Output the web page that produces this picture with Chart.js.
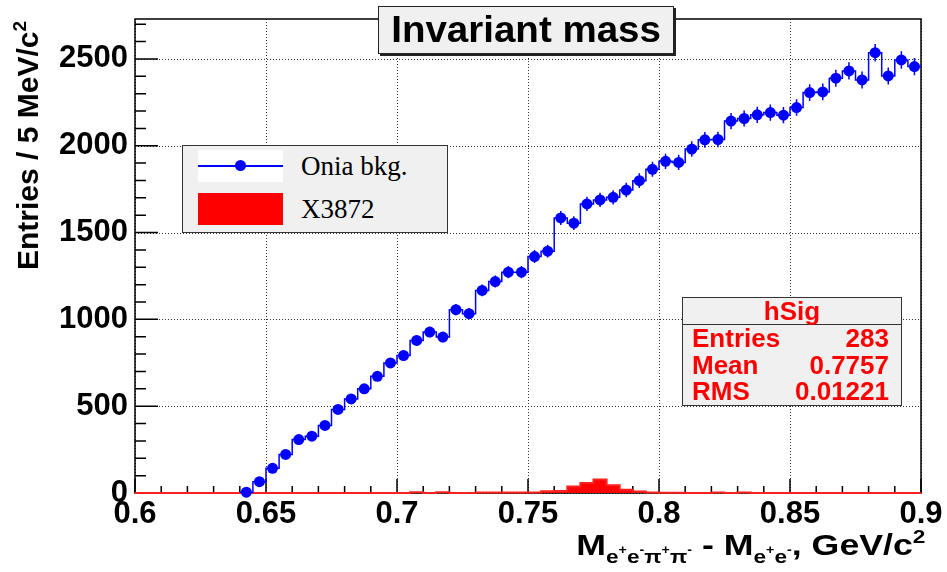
<!DOCTYPE html>
<html lang="en">
<head>
  <meta charset="UTF-8" />
  <title>Invariant mass</title>
  <script src="https://cdn.jsdelivr.net/npm/chart.js"></script>
  <style>
    body {
      margin: 0;
      background: #fff;
      font-family: "Liberation Sans", Arial, sans-serif;
    }
    .wrap {
      position: relative;
      width: 947px;
      height: 572px;
      overflow: hidden;
    }
    canvas { position: absolute; left: 0; top: 0; }
    .title-box {
      position: absolute;
      left: 378px; top: 6px;
      width: 294px; height: 46px;
      background: #f0f0f0;
      border: 1.5px solid #222;
      box-shadow: 2px 2px 0 #222;
      font-weight: bold;
      font-size: 36px;
      line-height: 46px;
      text-align: center;
    }
    .title-box span { display: inline-block; transform: scaleX(1.07); }
    .legend {
      position: absolute;
      left: 182px; top: 145px;
      width: 264px; height: 86px;
      background: #f0f0f0;
      border: 1.5px solid #333;
      font-family: "Liberation Serif", "Times New Roman", serif;
      font-size: 27px;
    }
    .legend .sym {
      position: absolute;
      left: 15px;
      width: 85px; height: 32px;
    }
    .legend .sym.line { top: 4px; background: #fff; }
    .legend .sym.line::before {
      content: ""; position: absolute; left: 0; right: 0; top: 15px;
      height: 1.5px; background: #0000ff;
    }
    .legend .sym.line::after {
      content: ""; position: absolute; left: 37px; top: 10px;
      width: 11px; height: 11px; border-radius: 50%; background: #0000ff;
    }
    .legend .sym.fill { top: 47px; background: #ff0000; }
    .legend .txt {
      position: absolute; left: 118px;
      line-height: 32px;
    }
    .stats {
      position: absolute;
      left: 682px; top: 297px;
      width: 218px; height: 107px;
      background: #f0f0f0;
      border: 1.5px solid #333;
      color: #ff0000;
      font-weight: bold;
      font-size: 26px;
    }
    .stats .head {
      height: 26px; line-height: 26px;
      text-align: center;
      border-bottom: 1.5px solid #333;
    }
    .stats .row {
      display: flex; justify-content: space-between;
      height: 26.5px; line-height: 26.5px;
      padding: 0 12px 0 9px;
    }
    .xtitle {
      position: absolute;
      right: 22px; top: 528px;
      font-weight: bold; font-size: 30px;
      line-height: 34px; white-space: nowrap;
      transform-origin: right center;
      transform: scaleX(1.19);
    }
    .ytitle {
      position: absolute; left: 0; top: 0;
      width: 300px; text-align: right;
      font-weight: bold; font-size: 30px;
      line-height: 34px; white-space: nowrap;
      transform-origin: 0 0;
      transform: translate(11px, 321px) rotate(-90deg);
    }
    .sub { font-size: 19px; position: relative; top: 8px; }
    .sub .pm { font-size: 12px; position: relative; top: -9px; }
    .sup { font-size: 19px; position: relative; top: -12px; }
  </style>
</head>
<body>
  <div class="wrap">
    <canvas id="massChart" width="947" height="572"></canvas>
    <div class="title-box"><span>Invariant mass</span></div>
    <div class="legend">
      <div class="sym line"></div>
      <div class="txt" style="top:4px">Onia bkg.</div>
      <div class="sym fill"></div>
      <div class="txt" style="top:47px">X3872</div>
    </div>
    <div class="stats">
      <div class="head">hSig</div>
      <div class="row"><span>Entries</span><span>283</span></div>
      <div class="row"><span>Mean</span><span>0.7757</span></div>
      <div class="row"><span>RMS</span><span>0.01221</span></div>
    </div>
    <div class="ytitle">Entries / 5 MeV/c<span class="sup">2</span></div>
    <div class="xtitle">M<span class="sub">e<span class="pm">+</span>e<span class="pm">-</span>&pi;<span class="pm">+</span>&pi;<span class="pm">-</span></span> - M<span class="sub">e<span class="pm">+</span>e<span class="pm">-</span></span>, GeV/c<span class="sup">2</span></div>
  </div>

  <script>
    // 60 bins of 5 MeV from 0.6 to 0.9 GeV/c^2 (low edges)
    const binLow = Array.from({ length: 60 }, (_, i) => +(0.6 + 0.005 * i).toFixed(4));
    const binWidth = 0.005;

    // Onia background, entries per bin (null = empty, no marker)
    const oniaValues = [
      null, null, null, null, null, null, null, null,
      5, 65, 142, 222, 308, 327, 389, 481, 542, 600, 672, 749,
      792, 879, 927, 898, 1056, 1033, 1167, 1218, 1272, 1272,
      1362, 1393, 1584, 1554, 1665, 1688, 1703, 1745, 1799, 1864,
      1910, 1904, 1981, 2034, 2036, 2142, 2157, 2178, 2191, 2176,
      2220, 2306, 2310, 2389, 2431, 2379, 2536, 2402, 2494, 2456
    ];

    // X3872 signal, entries per bin
    const signalValues = [
      0, 0, 0, 0, 0, 0, 0, 0, 0, 0,
      0, 0, 0, 0, 0, 0, 0, 0, 0, 0,
      0, 4, 0, 4, 0, 0, 3, 3, 3, 3,
      3, 10, 11, 38, 57, 78, 45, 18, 9, 3,
      1, 1, 0, 0, 3, 0, 3, 0, 0, 0,
      0, 0, 0, 0, 0, 0, 0, 0, 0, 0
    ];

    const xMajor = [0.6, 0.65, 0.7, 0.75, 0.8, 0.85, 0.9];
    const xTickText = ['0.6', '0.65', '0.7', '0.75', '0.8', '0.85', '0.9'];
    const yMajor = [0, 500, 1000, 1500, 2000, 2500];
    const yMax = 2730;

    const xMinor = [];
    for (let i = 1; i < 30; i++) xMinor.push(0.6 + 0.01 * i);
    const yMinor = [];
    for (let v = 100; v < yMax; v += 100) yMinor.push(v);

    // histogram outlines: one point per low edge, plus the closing edge
    function stepData(values) {
      const pts = [];
      values.forEach((v, i) => { if (v !== null) pts.push({ x: binLow[i], y: v }); });
      pts.push({ x: 0.9, y: values[values.length - 1] });
      return pts;
    }
    const oniaMarkers = [];
    oniaValues.forEach((v, i) => {
      if (v !== null) oniaMarkers.push({ x: binLow[i] + binWidth / 2, y: v });
    });

    const frameAndTicks = {
      id: 'frameAndTicks',
      beforeDatasetsDraw(chart) {
        const { ctx, chartArea: a, scales: { x, y } } = chart;
        ctx.save();
        ctx.strokeStyle = '#333';
        ctx.lineWidth = 1;
        ctx.setLineDash([1, 2]);
        ctx.beginPath();
        xMajor.forEach(v => {
          const px = Math.round(x.getPixelForValue(v)) + 0.5;
          ctx.moveTo(px, a.top); ctx.lineTo(px, a.bottom);
        });
        yMajor.forEach(v => {
          const py = Math.round(y.getPixelForValue(v)) + 0.5;
          ctx.moveTo(a.left, py); ctx.lineTo(a.right, py);
        });
        ctx.stroke();
        ctx.setLineDash([]);

        ctx.strokeStyle = '#000';
        ctx.lineWidth = 1.5;
        ctx.beginPath();
        xMinor.forEach(v => {
          const px = x.getPixelForValue(v);
          ctx.moveTo(px, a.bottom); ctx.lineTo(px, a.bottom - 7);
        });
        xMajor.forEach(v => {
          const px = x.getPixelForValue(v);
          ctx.moveTo(px, a.bottom); ctx.lineTo(px, a.bottom - 14);
        });
        yMinor.forEach(v => {
          const py = y.getPixelForValue(v);
          ctx.moveTo(a.left, py); ctx.lineTo(a.left + 11, py);
        });
        yMajor.forEach(v => {
          const py = y.getPixelForValue(v);
          ctx.moveTo(a.left, py); ctx.lineTo(a.left + 23, py);
        });
        ctx.stroke();
        ctx.strokeRect(a.left, a.top, a.right - a.left, a.bottom - a.top);
        ctx.restore();
      },
      afterDatasetsDraw(chart) {
        // sqrt(N) error bars on the background points
        const { ctx, scales: { x, y } } = chart;
        ctx.save();
        ctx.strokeStyle = '#0000ff';
        ctx.lineWidth = 1.5;
        ctx.beginPath();
        oniaMarkers.forEach(p => {
          const err = Math.sqrt(p.y);
          const px = x.getPixelForValue(p.x);
          ctx.moveTo(px, y.getPixelForValue(p.y + err));
          ctx.lineTo(px, y.getPixelForValue(Math.max(0, p.y - err)));
        });
        ctx.stroke();
        ctx.restore();
      }
    };

    const tickFont = { family: 'Liberation Sans', weight: 'bold', size: 31 };

    new Chart(document.getElementById('massChart').getContext('2d'), {
      type: 'line',
      data: {
        datasets: [
          {
            label: 'Onia bkg. points',
            data: oniaMarkers,
            showLine: false,
            pointStyle: 'circle',
            pointRadius: 5.5,
            pointBackgroundColor: '#0000ff',
            pointBorderWidth: 0,
            clip: false
          },
          {
            label: 'Onia bkg.',
            data: stepData(oniaValues),
            stepped: 'before',
            borderColor: '#0000ff',
            borderWidth: 1.5,
            pointRadius: 0,
            fill: false
          },
          {
            label: 'X3872',
            data: stepData(signalValues),
            stepped: 'before',
            borderColor: '#ff2020',
            backgroundColor: '#ff0000',
            borderWidth: 2,
            pointRadius: 0,
            fill: 'origin',
            clip: 4
          }
        ]
      },
      options: {
        responsive: false,
        animation: false,
        devicePixelRatio: 1,
        layout: { padding: { top: 19, right: 26, left: 0, bottom: 0 } },
        plugins: {
          legend: { display: false },
          tooltip: { enabled: false }
        },
        scales: {
          x: {
            type: 'linear',
            min: 0.6,
            max: 0.9,
            afterBuildTicks: s => { s.ticks = xMajor.map(v => ({ value: v })); },
            afterFit: s => { s.height = 79; s.paddingLeft = 0; s.paddingRight = 0; },
            grid: { display: false, drawTicks: false },
            border: { display: false },
            ticks: {
              autoSkip: false,
              maxRotation: 0,
              padding: 3,
              color: '#000',
              font: tickFont,
              callback: v => xTickText[Math.round((v - 0.6) / 0.05)]
            }
          },
          y: {
            min: 0,
            max: yMax,
            afterBuildTicks: s => { s.ticks = yMajor.map(v => ({ value: v })); },
            afterFit: s => { s.width = 135; s.paddingTop = 0; s.paddingBottom = 0; },
            grid: { display: false, drawTicks: false },
            border: { display: false },
            ticks: {
              padding: 7,
              color: '#000',
              font: tickFont,
              callback: v => String(v)
            }
          }
        }
      },
      plugins: [frameAndTicks]
    });
  </script>
</body>
</html>
